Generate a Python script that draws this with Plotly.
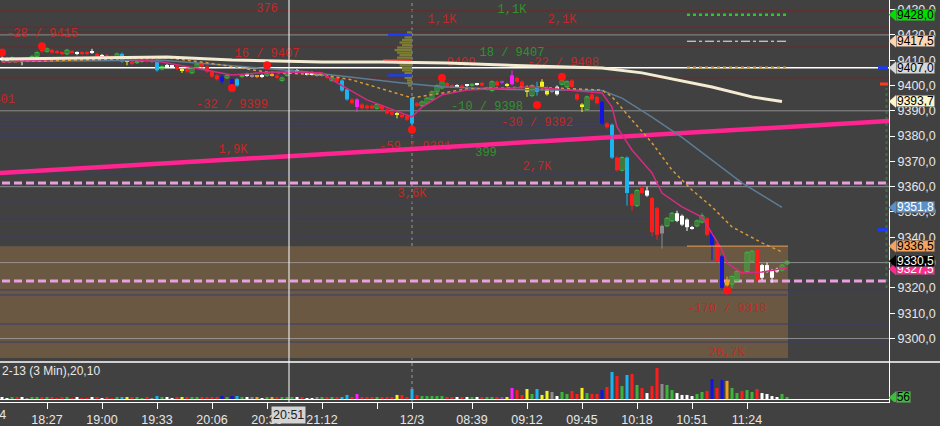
import plotly.graph_objects as go

# ---------------- data ----------------
bar_index = list(range(2, 160))
bar_type = list("WWGRWKGGRG" "RRRGRWRRWR" "WRRGCYRGGR" "KCGWWRYRGG" "RRRRBGBCGW"
                "KOWGORGGGW" "RWWKGRGRCC" "RMRRRGRRRY" "RRCRGGGGGR" "RWRWGWRGGR"
                "PYMRRYGCYY" "KWGGRRYGRR" "BRCRGCRGRW" "RRKGGWWWWG" "GRBRBOGGRG" "GRWWWWGG")
opens = [9411, 9410.5, 9410, 9410.5, 9410, 9410.5, 9411, 9411.5, 9414.5, 9413.5,
         9414, 9413.5, 9413, 9412.5, 9413.5, 9413, 9413, 9413, 9413.5, 9412.5,
         9412, 9412, 9411.5, 9411.5, 9412.5, 9409.5, 9409.5, 9409, 9409.5, 9410.5,
         9410, 9410, 9406.5, 9408, 9407.5, 9407.5, 9406, 9406.5, 9405, 9407,
         9408.5, 9407.5, 9405.5, 9404, 9403.5, 9403, 9402.5, 9400, 9403.5, 9404,
         9404, 9403.5, 9404, 9404, 9404.5, 9404, 9402, 9404, 9405.5, 9406,
         9405.5, 9405, 9405, 9404.5, 9404, 9404, 9402, 9403, 9402, 9398.5,
         9394.5, 9394.5, 9392.5, 9392, 9392, 9391, 9392, 9390.5, 9389.5, 9388.5,
         9388.5, 9388, 9385, 9393, 9392, 9393, 9394.5, 9397.5, 9399, 9401,
         9400, 9400, 9400, 9400, 9400, 9400.5, 9401, 9398.5, 9398, 9401.5,
         9401.5, 9400.5, 9400.5, 9403, 9401.5, 9399, 9396, 9399.5, 9401.5, 9399,
         9398, 9396.5, 9400.5, 9399.5, 9402, 9396.5, 9392.5, 9390.5, 9396.5, 9395.5,
         9393.5, 9385, 9384.5, 9371.5, 9366.5, 9371.5, 9357, 9352.5, 9359.5, 9358.5,
         9355.5, 9351.5, 9341.5, 9344.5, 9346.5, 9349.5, 9348.5, 9347, 9344, 9344.5,
         9346, 9347.5, 9341.5, 9337.5, 9332.5, 9323, 9321.5, 9323, 9326.5, 9326.5,
         9330.5, 9335, 9329, 9329, 9327, 9327.5, 9327, 9329.5]
highs = [9411.5, 9411, 9411.5, 9411, 9410.5, 9411, 9412, 9413.5, 9415, 9415,
         9414.5, 9414, 9413.5, 9414.5, 9414, 9413.5, 9413.5, 9413.5, 9414.5, 9413,
         9412.5, 9412.5, 9412, 9413, 9413, 9410.5, 9410, 9410, 9410.5, 9411,
         9410.5, 9410.5, 9408, 9408.5, 9408, 9408, 9407, 9407, 9407.5, 9409,
         9409, 9408, 9406, 9404.5, 9404.5, 9404.5, 9403, 9403, 9404.5, 9405,
         9404.5, 9404, 9404.5, 9405.5, 9405, 9404.5, 9403.5, 9406, 9406.5, 9406.5,
         9406, 9405.5, 9405.5, 9405, 9405, 9404.5, 9403.5, 9403.5, 9402.5, 9399,
         9395, 9395, 9393, 9392.5, 9392.5, 9393, 9392.5, 9391, 9390, 9389.5,
         9389, 9388.5, 9395.5, 9393.5, 9394, 9395.5, 9398, 9400.5, 9402, 9401.5,
         9400.5, 9400.5, 9400.5, 9400.5, 9401, 9401, 9401.5, 9399.5, 9402, 9402,
         9402, 9401, 9406, 9403.5, 9402, 9400, 9400.5, 9401.5, 9402.5, 9399.5,
         9398.5, 9400, 9402.5, 9402, 9402.5, 9397, 9393, 9396, 9397, 9396,
         9394, 9385.5, 9385, 9372, 9372, 9372, 9357.5, 9359, 9360.5, 9360,
         9356, 9352, 9345, 9348, 9350, 9350.5, 9349, 9347.5, 9344.5, 9347,
         9349.5, 9348, 9342, 9338, 9333, 9324.5, 9325, 9327, 9327, 9334.5,
         9335, 9335.5, 9329.5, 9330, 9327.5, 9328, 9329.5, 9331]
lows = [9409.5, 9409.5, 9409.5, 9409, 9408, 9409.5, 9410.5, 9411, 9413, 9413,
        9412.5, 9412.5, 9412, 9412, 9412.5, 9412, 9412, 9412, 9412.5, 9411,
        9411, 9411, 9410.5, 9411, 9409, 9408, 9408, 9408.5, 9409, 9409,
        9409, 9405.5, 9406, 9407, 9407, 9406, 9405, 9405, 9404.5, 9406.5,
        9407, 9405, 9403, 9402, 9400.5, 9402.5, 9399.5, 9399.5, 9403, 9403.5,
        9403, 9403, 9403, 9403.5, 9403.5, 9402.5, 9401.5, 9403.5, 9405, 9405,
        9404.5, 9404, 9404, 9403.5, 9403.5, 9402.5, 9401.5, 9401, 9397.5, 9394,
        9392.5, 9389.5, 9390.5, 9390.5, 9390.5, 9390.5, 9390, 9388.5, 9388, 9387,
        9387, 9386, 9384.5, 9391.5, 9391.5, 9392.5, 9394, 9397, 9398.5, 9399,
        9399, 9399, 9398.5, 9399.5, 9399.5, 9400, 9399.5, 9398, 9397.5, 9399.5,
        9400.5, 9399.5, 9400, 9401, 9398.5, 9395.5, 9395.5, 9396, 9398, 9396,
        9397, 9396, 9400, 9399, 9399, 9394, 9389.5, 9390, 9394, 9392.5,
        9384.5, 9383, 9371, 9366, 9366, 9352.5, 9350.5, 9352, 9357, 9356,
        9340.5, 9339, 9335.5, 9344, 9346, 9346, 9344.5, 9342.5, 9343, 9344,
        9345.5, 9340.5, 9331, 9330, 9319.5, 9318, 9320, 9322.5, 9325, 9326,
        9330, 9322.5, 9323, 9326, 9322, 9326, 9326.5, 9329]
closes = [9410, 9410, 9411, 9409.5, 9409.5, 9410, 9411.5, 9413, 9413.5, 9414.5,
          9413, 9413, 9412.5, 9414, 9413, 9412.5, 9412.5, 9412.5, 9413, 9411.5,
          9411.5, 9411.5, 9411, 9412.5, 9409.5, 9409.5, 9408.5, 9409.5, 9410, 9409.5,
          9409.5, 9406, 9407.5, 9407.5, 9407.5, 9406.5, 9406, 9405.5, 9407, 9408.5,
          9407.5, 9405.5, 9403.5, 9402.5, 9401.5, 9404, 9400, 9402.5, 9404, 9404.5,
          9403.5, 9403.5, 9403.5, 9405, 9404, 9403, 9403, 9405.5, 9406, 9405.5,
          9405, 9404.5, 9404.5, 9404, 9404.5, 9403, 9403, 9401.5, 9398, 9394.5,
          9393, 9391.5, 9391, 9391, 9391, 9392.5, 9390.5, 9389, 9388.5, 9388.5,
          9387.5, 9386.5, 9395, 9392, 9393.5, 9395, 9397.5, 9400, 9401.5, 9399.5,
          9399.5, 9399.5, 9399, 9400, 9400.5, 9400.5, 9400, 9399, 9401.5, 9400,
          9401, 9400, 9404, 9401.5, 9399, 9397.5, 9400, 9397.5, 9399.5, 9396.5,
          9397.5, 9399.5, 9402, 9401.5, 9399.5, 9394.5, 9391.5, 9395.5, 9394.5, 9393,
          9385, 9383.5, 9371.5, 9366.5, 9371.5, 9357.5, 9352.5, 9358.5, 9357.5, 9356.5,
          9342, 9341, 9344.5, 9347.5, 9349.5, 9346.5, 9345, 9344, 9343.5, 9346.5,
          9348.5, 9341, 9337, 9330.5, 9320, 9321, 9324.5, 9326.5, 9325.5, 9334,
          9334.5, 9323, 9324, 9326.5, 9324, 9326.5, 9329, 9330.5]
volume = [40, 30, 40, 40, 60, 30, 40, 75, 60, 40,
          40, 30, 40, 40, 30, 40, 30, 30, 40, 40,
          30, 40, 30, 40, 75, 40, 40, 40, 30, 40,
          30, 110, 40, 40, 30, 40, 40, 40, 40, 40,
          40, 60, 60, 40, 110, 40, 110, 110, 40, 40,
          40, 40, 30, 40, 40, 40, 40, 40, 40, 40,
          40, 30, 30, 40, 40, 40, 40, 40, 75, 150,
          75, 185, 75, 40, 40, 40, 40, 40, 60, 150,
          150, 75, 370, 150, 110, 110, 110, 110, 110, 75,
          60, 40, 40, 40, 40, 40, 75, 40, 40, 40,
          40, 40, 410, 330, 150, 370, 185, 370, 150, 300,
          260, 110, 260, 185, 300, 185, 410, 220, 185, 185,
          330, 445, 1000, 850, 480, 890, 925, 520, 410, 220,
          480, 1150, 555, 520, 330, 220, 150, 150, 110, 185,
          260, 300, 740, 410, 700, 670, 410, 220, 300, 330,
          260, 370, 220, 185, 110, 75, 185, 56]

signal_bar = [2, 10, 48, 55, 84, 90, 109, 114, 147]
signal_price = [9413, 9415.5, 9399, 9408, 9382.5, 9403, 9392.3, 9403.5, 9319]

sma_bar = [2, 35, 48, 66, 78, 91, 108, 122, 130, 137, 144, 152, 158]
sma_val = [9410.5, 9411.3, 9410.1, 9409.3, 9409.3, 9408.9, 9407.7, 9406.9, 9405.0, 9402.2, 9399.4, 9395.5, 9393.7]
ema_bar = [2, 35, 43, 55, 66, 72, 84, 90, 95, 108, 122, 124, 128, 132, 136, 140, 144, 148, 154, 158]
ema_val = [9409.3, 9411.0, 9409.0, 9405.3, 9404.2, 9402.2, 9395.1, 9397.0, 9398.6, 9399.4, 9398.2,
           9395.5, 9386.4, 9377.3, 9366.6, 9358.7, 9352.0, 9344.1, 9337.8, 9334.2]
slow_bar = [2, 34, 50, 62, 82, 90, 102, 115, 122, 126, 132, 138, 144, 150, 158]
slow_val = [9409.5, 9410.0, 9407.5, 9405.5, 9401.0, 9399.5, 9398.5, 9398.0, 9398.0, 9395.0,
            9387.5, 9379.5, 9370.5, 9361.5, 9351.8]
fast_bar = [2, 22, 34, 48, 56, 66, 68, 75, 84, 86, 90, 95, 108, 115, 122, 124, 125, 128, 132,
            134, 138, 142, 144, 146, 147, 150, 154, 159]
fast_val = [9409.3, 9411.3, 9409.3, 9404.2, 9405.3, 9405.0, 9402.2, 9394.3, 9387.6, 9391.5,
            9396.3, 9398.2, 9399.4, 9398.2, 9397.0, 9391.5, 9383.6, 9374.5, 9365.4, 9357.5,
            9352.0, 9348.0, 9341.7, 9335.0, 9329.8, 9325.9, 9326.3, 9327.9]

trend_bar = [0, 180]
trend_val = [9365.2, 9386.05]

profile_price = list(range(9400, 9422))
profile_len = [0.8, 1, 1, 1.5, 4.8, 1.5, 2, 2, 2.5, 3, 5.8, 3, 2.5, 3, 3.5, 3, 2, 2.5, 2, 1.5, 4.8, 1]
profile_kind = ["o", "o", "o", "o", "b", "o", "o", "o", "o", "o", "r", "o", "o", "o", "o", "o",
                "o", "o", "o", "o", "b", "o"]
profile_anchor = 84

dark_red_levels = [9429.5, 9423.1, 9421.2, 9415.2, 9403.0]
navy_levels = [9387.2, 9385.6, 9383.6, 9381.6, 9379.7, 9364.6, 9354.0, 9347.2, 9340.1,
               9319.2, 9317.2, 9305.7, 9298.6]
navy_end = [124, 124, 124, 124, 124, 126, 128, 133, 134, 180, 159, 180, 180]
pink_dash_levels = [9361.5, 9322.75]
white_level = 9407.0
zone_top, zone_bottom, zone_end = 9336.5, 9292.3, 159.2
target_levels = [9428.0, 9417.5, 9407.0]
target_start, target_end = 139, 159.2
orange_level = 9336.5
edge_blue = [9407.0, 9343.0]
edge_red = [9400.6]

tick_bars = [11, 22, 33, 44, 55, 66, 77, 84, 96, 107, 118, 129, 140, 151]
tick_labels = ["18:27", "19:00", "19:33", "20:06", "20:39", "21:12", "", "12/3",
               "08:39", "09:12", "09:45", "10:18", "10:51", "11:24"]
cursor_bar = 59.4
cursor_label = "20:51"
session_bar = 84

label_text = ["376", "-28 / 9415", "16 / 9407", "-17 / 9401", "-32 / 9399", "1,9K", "1,1K", "1,1K",
              "2,1K", "18 / 9407", "9409", "-22 / 9408", "-10 / 9398", "-30 / 9392", "-59 / 9381",
              "399", "2,7K", "3,6K", "-170 / 9318", "26,7K"]
label_bar = [55, 10, 55, 4.6, 48, 48.2, 90, 104, 114, 104, 93.8, 114.2, 99, 109, 84.6, 98.8, 109, 84, 147, 147]
label_price = [9430.2, 9420.4, 9412.5, 9394.3, 9392.3, 9374.5, 9425.9, 9429.8, 9425.9, 9412.9,
               9408.9, 9408.9, 9391.5, 9385.2, 9375.7, 9373.3, 9367.8, 9357.1, 9311.7, 9294.3]
label_kind = ["r", "r", "r", "r", "r", "r", "r", "g", "r", "g", "r", "r", "g", "r", "r", "g", "r", "r", "r", "r"]

tag_values = [9428.0, 9417.5, 9407.0, 9393.7, 9351.8, 9336.5, 9327.5, 9330.5]
tag_fill = ["#00e000", "#ffd6b4", "#d8d8d8", "#fff6cc", "#5b8fc8", "#f4a460", "#ff2a8c", "#000000"]
tag_font = ["#000000", "#000000", "#000000", "#000000", "#ffffff", "#000000", "#ffffff", "#ffffff"]
volume_tag = 56

panel_label = "2-13 (3 Min),20,10"

# ---------------- styling / layout constants ----------------
W, H = 940, 426
BG = "#414141"
XMIN, XMAX = 1.6, 179.4
PMIN, PMAX = 9290.7, 9433.8
VMIN, VMAX = -111, 1369
PLOT_R = 889 / W
MAIN_BOT = 1 - 362 / H
VOL_BOT = 1 - 402 / H
FONT = "Arial, Liberation Sans, sans-serif"
MONO = "Liberation Mono, Courier New, monospace"
TYPE_COLOR = {"R": "#ff1c1c", "G": "#3cb43c", "W": "#ffffff", "C": "#1cb4f0", "B": "#1414e0",
              "Y": "#f2f21c", "M": "#ff1cff", "P": "#9b3cd2", "K": "#8c8c8c", "O": "#f0a01c"}

fig = go.Figure()

# volume profile (previous session)
prof_col = {"o": "#7d7d35", "b": "#1a3cff", "r": "#ff2020"}
fig.add_trace(go.Bar(orientation="h", y=profile_price, x=[-v for v in profile_len],
                     base=profile_anchor, width=0.9,
                     marker=dict(color=[prof_col[k] for k in profile_kind], line=dict(width=0)),
                     xaxis="x", yaxis="y", hoverinfo="skip"))

# text labels (behind lines)
fig.add_trace(go.Scatter(x=label_bar, y=label_price, mode="text", text=label_text,
                         textposition=["middle left" if b < 6 else "middle center" for b in label_bar],
                         textfont=dict(family=MONO, size=12,
                                       color=["#c42828" if k == "r" else "#2f932f" for k in label_kind]),
                         hoverinfo="skip"))

# trend line
fig.add_trace(go.Scatter(x=trend_bar, y=trend_val, mode="lines",
                         line=dict(color="#ff2490", width=4.5), hoverinfo="skip"))

# candles
for t, col in TYPE_COLOR.items():
    idx = [i for i, bt in enumerate(bar_type) if bt == t]
    if not idx:
        continue
    wx, wy = [], []
    for i in idx:
        wx += [bar_index[i], bar_index[i], None]
        wy += [lows[i], highs[i], None]
    fig.add_trace(go.Scatter(x=wx, y=wy, mode="lines", line=dict(color=col, width=1), hoverinfo="skip"))
    fig.add_trace(go.Bar(x=[bar_index[i] for i in idx],
                         base=[min(opens[i], closes[i]) for i in idx],
                         y=[max(abs(closes[i] - opens[i]), 0.4) for i in idx],
                         width=0.8,
                         marker=dict(color=("rgba(0,0,0,0)" if t == "G" else col),
                                     line=dict(color=col, width=(1 if t == "G" else 0))),
                         xaxis="x", yaxis="y", hoverinfo="skip"))

# moving averages
fig.add_trace(go.Scatter(x=slow_bar, y=slow_val, mode="lines", line=dict(color="#5d7c96", width=1.5), hoverinfo="skip"))
fig.add_trace(go.Scatter(x=ema_bar, y=ema_val, mode="lines", line=dict(color="#d89a3a", width=1.5, dash="dot"), hoverinfo="skip"))
fig.add_trace(go.Scatter(x=fast_bar, y=fast_val, mode="lines", line=dict(color="#d42c80", width=1.5), hoverinfo="skip"))
fig.add_trace(go.Scatter(x=sma_bar, y=sma_val, mode="lines", line=dict(color="#f3ecd2", width=3), hoverinfo="skip"))

# signal dots
fig.add_trace(go.Scatter(x=signal_bar, y=signal_price, mode="markers",
                         marker=dict(color="#ff1414", size=8, line=dict(width=0)), hoverinfo="skip"))

# target level segments
tgt_style = [dict(color="#22d022", width=2.5, dash="dot"),
             dict(color="#f0f0f0", width=1, dash="dashdot"),
             dict(color="#c8a040", width=2.5, dash="dot")]
for v, st in zip(target_levels, tgt_style):
    fig.add_trace(go.Scatter(x=[target_start, target_end], y=[v, v], mode="lines", line=st, hoverinfo="skip"))
fig.add_trace(go.Scatter(x=[target_start, target_end], y=[orange_level, orange_level], mode="lines",
                         line=dict(color="#f0a050", width=1), hoverinfo="skip"))

# right edge marks
for v in edge_blue:
    fig.add_trace(go.Scatter(x=[177.2, 179.2], y=[v, v], mode="lines", line=dict(color="#1a3cff", width=3), hoverinfo="skip"))
for v in edge_red:
    fig.add_trace(go.Scatter(x=[177.6, 179.2], y=[v, v], mode="lines", line=dict(color="#ff3a1a", width=3), hoverinfo="skip"))
fig.add_trace(go.Scatter(x=[178.9, 178.9], y=[9320, 9399], mode="lines",
                         line=dict(color="rgba(60,150,60,0.55)", width=2, dash="dot"), hoverinfo="skip"))

# volume
fig.add_trace(go.Bar(x=bar_index, y=volume, width=0.6,
                     marker=dict(color=[TYPE_COLOR[t] for t in bar_type], line=dict(width=0)),
                     xaxis="x", yaxis="y2", hoverinfo="skip"))

shapes = []
# zone box
shapes.append(dict(type="rect", xref="x", yref="y", x0=XMIN - 2, x1=zone_end, y0=zone_bottom, y1=zone_top,
                   fillcolor="#6a5843", line=dict(width=0), layer="below"))
# grid every 30 points
for v in range(9300, 9431, 30):
    shapes.append(dict(type="line", xref="x", yref="y", x0=XMIN - 2, x1=XMAX + 2, y0=v, y1=v,
                       line=dict(color="rgba(165,165,165,0.75)", width=1), layer="below"))
for v in dark_red_levels:
    shapes.append(dict(type="line", xref="x", yref="y", x0=XMIN - 2, x1=XMAX + 2, y0=v, y1=v,
                       line=dict(color="#702828", width=1), layer="below"))
for v, e in zip(navy_levels, navy_end):
    shapes.append(dict(type="line", xref="x", yref="y", x0=XMIN - 2, x1=e, y0=v, y1=v,
                       line=dict(color="#3c3c6c", width=1), layer="below"))
shapes.append(dict(type="line", xref="x", yref="y", x0=XMIN - 2, x1=XMAX + 2, y0=white_level, y1=white_level,
                   line=dict(color="#ffffff", width=1.5), layer="below"))
for v in pink_dash_levels:
    shapes.append(dict(type="line", xref="x", yref="y", x0=XMIN - 2, x1=XMAX + 2, y0=v, y1=v,
                       line=dict(color="#e89ee0", width=3, dash="8px,4px"), layer="below"))
shapes.append(dict(type="line", xref="x", yref="paper", x0=session_bar, x1=session_bar, y0=VOL_BOT, y1=1,
                   line=dict(color="#9a9a9a", width=1, dash="dot"), layer="below"))
shapes.append(dict(type="line", xref="x", yref="paper", x0=cursor_bar, x1=cursor_bar, y0=VOL_BOT, y1=1,
                   line=dict(color="#ffffff", width=1), layer="above"))
shapes.append(dict(type="line", xref="paper", yref="paper", x0=0, x1=1, y0=MAIN_BOT, y1=MAIN_BOT,
                   line=dict(color="#ffffff", width=1.5), layer="above"))

annotations = []
px_per_pt = 362 / (PMAX - PMIN)
hp = 6 / px_per_pt
xt, xl, xr = 889 / W, 896 / W, 935 / W
for v, f, fc in zip(tag_values, tag_fill, tag_font):
    path = f"M {xt},{v} L {xl},{v + hp} L {xl},{v - hp} Z"
    shapes.append(dict(type="path", xref="paper", yref="y", path=path, fillcolor=f,
                       line=dict(color=f, width=0.5), layer="above"))
    annotations.append(dict(x=(xl + xr) / 2, y=v, xref="paper", yref="y", xanchor="center", yanchor="middle",
                            showarrow=False, text=f"{v:.1f}".replace(".", ","), width=38, height=11,
                            borderpad=0, bgcolor=f, bordercolor="#5a5a5a", borderwidth=0.5,
                            font=dict(family=FONT, size=12, color=fc)))
hv = 6 * (VMAX - VMIN) / 40
v = volume_tag
xr2 = 911 / W
shapes.append(dict(type="path", xref="paper", yref="y2",
                   path=f"M {xt},{v} L {xl},{v + hv} L {xl},{v - hv} Z",
                   fillcolor="#3cbf3c", line=dict(color="#3cbf3c", width=0.5), layer="above"))
annotations.append(dict(x=(xl + xr2) / 2, y=v, xref="paper", yref="y2", xanchor="center", yanchor="middle",
                        showarrow=False, text=str(v), width=14, height=11, borderpad=0, bgcolor="#3cbf3c",
                        bordercolor="#5a5a5a", borderwidth=0.5,
                        font=dict(family=FONT, size=12, color="#000000")))

annotations.append(dict(x=0, y=1 - 380 / H, xref="paper", yref="paper", xanchor="left", showarrow=False,
                        text=panel_label, font=dict(family=FONT, size=12, color="#e8e8e8")))
annotations.append(dict(x=288 / W, y=1 - 415 / H, xref="paper", yref="paper", xanchor="center",
                        yanchor="middle", showarrow=False, text=cursor_label, bgcolor="#d4d4d4", borderpad=1,
                        font=dict(family=FONT, size=12.5, color="#202020")))
annotations.append(dict(x=-10 / W, y=1 - 415 / H, xref="paper", yref="paper", xanchor="center",
                        yanchor="middle", showarrow=False,
                        text="17:54", font=dict(family=FONT, size=12.5, color="#e6e6e6")))

price_ticks = list(range(9300, 9431, 10))
fig.update_layout(
    width=W, height=H, margin=dict(l=0, r=0, t=0, b=0),
    paper_bgcolor=BG, plot_bgcolor=BG, showlegend=False, barmode="overlay",
    xaxis=dict(domain=[0, PLOT_R], range=[XMIN, XMAX], anchor="y2", tickmode="array",
               tickvals=tick_bars, ticktext=tick_labels, ticks="outside", ticklen=6, tickcolor="#ffffff",
               showline=True, linecolor="#ffffff", linewidth=1, showgrid=False, zeroline=False,
               tickfont=dict(family=FONT, size=12.5, color="#e6e6e6")),
    yaxis=dict(domain=[MAIN_BOT, 1], range=[PMIN, PMAX], side="right", anchor="x", tickmode="array",
               tickvals=price_ticks, ticktext=[f"{p:.1f}".replace(".", ",") for p in price_ticks],
               ticks="outside", ticklen=5, tickcolor="#ffffff", showline=True, linecolor="#ffffff",
               showgrid=False, zeroline=False, tickfont=dict(family=FONT, size=12.5, color="#e6e6e6")),
    yaxis2=dict(domain=[VOL_BOT, MAIN_BOT], range=[VMIN, VMAX], side="right", anchor="x",
                showticklabels=False, ticks="", showline=True, linecolor="#ffffff", showgrid=False,
                zeroline=True, zerolinecolor="#ffffff", zerolinewidth=1),
    shapes=shapes, annotations=annotations,
)

fig.write_html("out.html", config={"displayModeBar": False},
               post_script="document.body.style.margin='0';document.body.style.overflow='hidden';")
